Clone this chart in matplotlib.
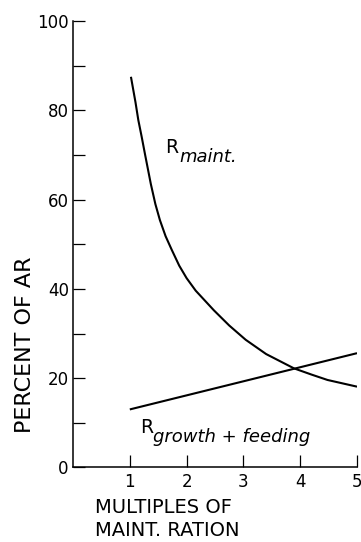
import matplotlib
matplotlib.use("Agg")
import matplotlib.pyplot as plt
from matplotlib.ticker import MultipleLocator

# values
maint_x = [1.02, 1.1, 1.15, 1.21, 1.27, 1.37, 1.45, 1.53, 1.63, 1.74, 1.87, 2.0,
           2.16, 2.32, 2.48, 2.75, 3.04, 3.4, 3.89, 4.2, 4.48, 5.0]
maint_y = [87.5, 81.8, 77.8, 74.0, 70.0, 63.5, 59.0, 55.4, 51.8, 48.7, 45.2, 42.4,
           39.6, 37.4, 35.2, 31.8, 28.6, 25.4, 22.2, 20.8, 19.6, 18.1]

growth_x = [1.0, 5.0]
growth_y = [13.0, 25.6]

x_ticks = [1, 2, 3, 4, 5]
y_ticks = [0, 20, 40, 60, 80, 100]

plt.rcParams["font.family"] = ["DejaVu Sans"]

fig = plt.figure(figsize=(3.61, 5.42), dpi=100)
ax = fig.add_axes([0.2022, 0.1375, 0.9890 - 0.2022, 0.9613 - 0.1375])

ax.plot(maint_x, maint_y, color="black", lw=1.5, solid_capstyle="butt")
ax.plot(growth_x, growth_y, color="black", lw=1.5, solid_capstyle="butt")

ax.set_xlim(0, 5)
ax.set_ylim(0, 100)
for s in ("top", "right"):
    ax.spines[s].set_visible(False)
for s in ("left", "bottom"):
    ax.spines[s].set_linewidth(1.1)

ax.set_xticks(x_ticks)
ax.set_yticks(y_ticks)
ax.yaxis.set_minor_locator(MultipleLocator(10))
ax.tick_params(axis="both", which="both", direction="in", length=8.5, width=0.9,
               labelsize=12, pad=4)
ax.tick_params(axis="y", which="major", pad=3)

# axis titles, placed like the reference (not centred)
ax.text(-0.17, 0.274, "PERCENT OF AR", transform=ax.transAxes, rotation=90,
        fontsize=16, ha="center", va="center")
ax.text(0.0775, -0.1010, "MULTIPLES OF", transform=ax.transAxes,
        fontsize=14, ha="left", va="baseline")
ax.text(0.0775, -0.1545, "MAINT. RATION", transform=ax.transAxes,
        fontsize=14, ha="left", va="baseline")

# curve labels
ax.text(1.62, 70.4, "R", fontsize=13.5, ha="left", va="baseline")
ax.text(1.88, 68.4, "maint.", fontsize=13, style="italic", ha="left", va="baseline")
ax.text(1.18, 7.7, "R", fontsize=13.5, ha="left", va="baseline")
ax.text(1.41, 5.7, "growth + feeding", fontsize=13, style="italic", ha="left", va="baseline")

fig.savefig("out.png", dpi=100)
